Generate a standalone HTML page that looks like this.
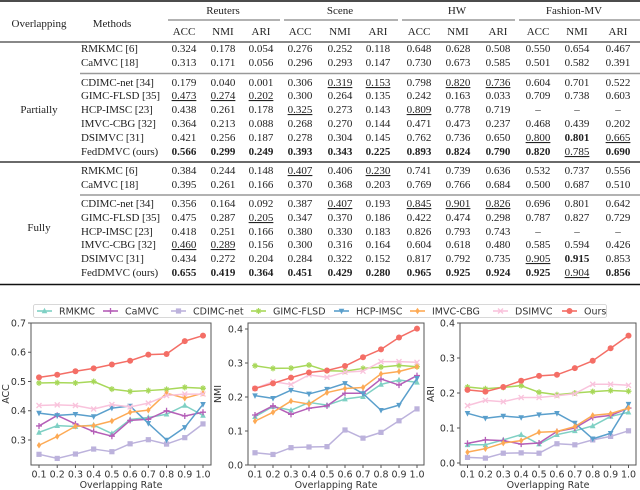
<!DOCTYPE html>
<html><head><meta charset="utf-8">
<style>
html,body{margin:0;padding:0;background:#fff;}
svg{display:block;}
.tb{font-family:"Liberation Serif","DejaVu Serif",serif;font-size:11px;fill:#222;}
.ax{font-family:"DejaVu Sans","Liberation Sans",sans-serif;font-size:9.5px;fill:#333;}
</style></head>
<body>
<svg id="root" width="640" height="490" viewBox="0 0 640 490" xmlns="http://www.w3.org/2000/svg">
  <g id="table"></g>
  <g id="legend"></g>
  <g id="charts"></g>
</svg>
<script>
const NS='http://www.w3.org/2000/svg';
function mk(tag,attrs,parent){const e=document.createElementNS(NS,tag);for(const k in attrs)e.setAttribute(k,attrs[k]);parent.appendChild(e);return e;}

/* ---------------- TABLE ---------------- */
const colX=[184,223,261,300,340,378,419,458,498,538,577,618];
const subHeads=['ACC','NMI','ARI','ACC','NMI','ARI','ACC','NMI','ARI','ACC','NMI','ARI'];
const groupNames=['Reuters','Scene','HW','Fashion-MV'];
const groupX=[223,340,457,574];
const methodNames=['RMKMC [6]','CaMVC [18]','CDIMC-net [34]','GIMC-FLSD [35]','HCP-IMSC [23]','IMVC-CBG [32]','DSIMVC [31]','FedDMVC (ours)'];
const partialRows=[
['0.324','0.178','0.054','0.276','0.252','0.118','0.648','0.628','0.508','0.550','0.654','0.467'],
['0.313','0.171','0.056','0.296','0.293','0.147','0.730','0.673','0.585','0.501','0.582','0.391'],
['0.179','0.040','0.001','0.306','u0.319','u0.153','0.798','u0.820','u0.736','0.604','0.701','0.522'],
['u0.473','u0.274','u0.202','0.300','0.264','0.135','0.242','0.163','0.033','0.709','0.738','0.603'],
['0.438','0.261','0.178','u0.325','0.273','0.143','u0.809','0.778','0.719','–','–','–'],
['0.364','0.213','0.088','0.268','0.270','0.144','0.471','0.473','0.237','0.468','0.439','0.202'],
['0.421','0.256','0.187','0.278','0.304','0.145','0.762','0.736','0.650','u0.800','b0.801','u0.665'],
['b0.566','b0.299','b0.249','b0.393','b0.343','b0.225','b0.893','b0.824','b0.790','b0.820','u0.785','b0.690']];
const fullRows=[
['0.384','0.244','0.148','u0.407','0.406','u0.230','0.741','0.739','0.636','0.532','0.737','0.556'],
['0.395','0.261','0.166','0.370','0.368','0.203','0.769','0.766','0.684','0.500','0.687','0.510'],
['0.356','0.164','0.092','0.387','u0.407','0.193','u0.845','u0.901','u0.826','0.696','0.801','0.642'],
['0.475','0.287','u0.205','0.347','0.370','0.186','0.422','0.474','0.298','0.787','0.827','0.729'],
['0.418','0.251','0.166','0.380','0.330','0.183','0.826','0.793','0.743','–','–','–'],
['u0.460','u0.289','0.156','0.300','0.316','0.164','0.604','0.618','0.480','0.585','0.594','0.426'],
['0.434','0.272','0.204','0.284','0.322','0.152','0.817','0.792','0.735','u0.905','b0.915','0.853'],
['b0.655','b0.419','b0.364','b0.451','b0.429','b0.280','b0.965','b0.925','b0.924','b0.925','u0.904','b0.856']];
const partialY=[52,66,86,99,113,127,141,155];
const fullY=[174,188,207,221,235,248,262,276];

const T=document.getElementById('table');
function txt(parent,x,y,s,anchor,name,extra){
  const t=mk('text',{x:x,y:y,'text-anchor':anchor||'middle','class':'tb'},parent);
  
  
  if(extra){for(const k in extra)t.setAttribute(k,extra[k]);}
  t.textContent=s;return t;
}
function rule(y,x1,x2,w,c){const l=mk('line',{x1:x1,x2:x2,y1:y,y2:y,stroke:c||'#111','stroke-width':w},T);
  
  }
rule(1,0,640,1.6);
rule(42,0,640,1);
rule(73.5,80,640,1.6,'#999');
rule(162,0,640,1.2);
rule(195,80,640,1.6,'#999');
rule(284.5,0,640,1.6);
const spans=[[168,280],[284,398],[402,515],[519,640]];
spans.forEach(s=>rule(20,s[0],s[1],0.8,'#333'));
txt(T,39,27,'Overlapping','middle','overlapping-header');
txt(T,112,27,'Methods','middle','methods-header');
groupNames.forEach((g,i)=>txt(T,groupX[i],14,g,'middle','dataset-header'));
subHeads.forEach((h,i)=>txt(T,colX[i],35,h,'middle','metric-header'));
txt(T,39,113,'Partially','middle','partially-label');
txt(T,39,231,'Fully','middle','fully-label');
function rows(data,ys){
  data.forEach((r,ri)=>{
    txt(T,81,ys[ri],methodNames[ri],'start','method-name',{'letter-spacing':'-0.1'});
    r.forEach((v,ci)=>{
      let s=v,ex={'font-size':'11.5'};
      if(v[0]==='b'){s=v.slice(1);ex['font-weight']='bold';}
      else if(v[0]==='u'){s=v.slice(1);ex['text-decoration']='underline';}
      txt(T,colX[ci],ys[ri],s,'middle','table-value',ex);
    });
  });
}
rows(partialRows,partialY);
rows(fullRows,fullY);

/* ---------------- CHART DATA ---------------- */
const rates=[0.1,0.2,0.3,0.4,0.5,0.6,0.7,0.8,0.9,1.0];
const xTickLabels=['0.1','0.2','0.3','0.4','0.5','0.6','0.7','0.8','0.9','1.0'];
const seriesNames=['RMKMC','CaMVC','CDIMC-net','GIMC-FLSD','HCP-IMSC','IMVC-CBG','DSIMVC','Ours'];

const accRMKMC=[0.326,0.349,0.346,0.351,0.322,0.370,0.377,0.388,0.418,0.384];
const accCaMVC=[0.348,0.384,0.355,0.329,0.313,0.367,0.371,0.400,0.382,0.395];
const accCDIMC=[0.251,0.237,0.252,0.269,0.260,0.287,0.301,0.286,0.308,0.355];
const accGIMC=[0.495,0.496,0.495,0.500,0.474,0.466,0.469,0.473,0.480,0.477];
const accHCP=[0.392,0.384,0.388,0.380,0.409,0.416,0.357,0.300,0.343,0.422];
const accIMVC=[0.282,0.312,0.347,0.349,0.365,0.395,0.402,0.460,0.443,0.460];
const accDSIMVC=[0.418,0.420,0.418,0.406,0.421,0.413,0.426,0.452,0.457,0.457];
const accOurs=[0.514,0.523,0.535,0.545,0.558,0.571,0.592,0.594,0.638,0.657];

const nmiRMKMC=[0.142,0.172,0.161,0.184,0.176,0.194,0.201,0.237,0.250,0.243];
const nmiCaMVC=[0.147,0.174,0.149,0.167,0.174,0.211,0.211,0.253,0.235,0.263];
const nmiCDIMC=[0.036,0.031,0.051,0.053,0.054,0.103,0.079,0.096,0.130,0.165];
const nmiGIMC=[0.292,0.284,0.285,0.294,0.277,0.276,0.284,0.288,0.293,0.289];
const nmiHCP=[0.204,0.196,0.220,0.209,0.223,0.240,0.210,0.161,0.176,0.255];
const nmiIMVC=[0.129,0.155,0.188,0.179,0.213,0.225,0.228,0.268,0.275,0.289];
const nmiDSIMVC=[0.225,0.245,0.237,0.265,0.258,0.273,0.276,0.304,0.304,0.302];
const nmiOurs=[0.225,0.240,0.257,0.272,0.278,0.291,0.317,0.340,0.375,0.401];

const ariRMKMC=[0.052,0.052,0.066,0.081,0.054,0.081,0.092,0.106,0.133,0.145];
const ariCaMVC=[0.056,0.066,0.064,0.054,0.057,0.090,0.100,0.130,0.136,0.157];
const ariCDIMC=[0.016,0.014,0.028,0.029,0.028,0.055,0.052,0.066,0.076,0.092];
const ariGIMC=[0.217,0.212,0.216,0.221,0.202,0.195,0.200,0.204,0.207,0.205];
const ariHCP=[0.142,0.128,0.134,0.130,0.138,0.142,0.114,0.069,0.085,0.168];
const ariIMVC=[0.031,0.041,0.057,0.064,0.088,0.090,0.104,0.136,0.141,0.157];
const ariDSIMVC=[0.164,0.179,0.175,0.187,0.187,0.192,0.198,0.225,0.225,0.222];
const ariOurs=[0.209,0.204,0.217,0.235,0.249,0.252,0.271,0.292,0.328,0.364];

const accTicks=[0.3,0.4,0.5,0.6,0.7];
const nmiTicks=[0.0,0.1,0.2,0.3,0.4];
const ariTicks=[0.0,0.1,0.2,0.3,0.4];

/* ---------------- STYLE ---------------- */
const colors=['#7fd0c4','#b55fb8','#bcb2dc','#a8d85a','#5a9fcc','#fdaa55','#f9c3dc','#f46e66'];
const markers=['tri','plus','sq','star','vtri','dia','x','circ'];

function marker(g,type,x,y,c,name){
  let e;const r=2.8;
  if(type==='circ')e=mk('circle',{cx:x,cy:y,r:3,fill:c},g);
  else if(type==='sq')e=mk('rect',{x:x-2.6,y:y-2.6,width:5.2,height:5.2,fill:c},g);
  else if(type==='tri')e=mk('polygon',{points:`${x},${y-r-0.5} ${x-r},${y+r-0.5} ${x+r},${y+r-0.5}`,fill:c},g);
  else if(type==='vtri')e=mk('polygon',{points:`${x},${y+r+0.5} ${x-r},${y-r+0.5} ${x+r},${y-r+0.5}`,fill:c},g);
  else if(type==='dia')e=mk('polygon',{points:`${x},${y-3.3} ${x-2.2},${y} ${x},${y+3.3} ${x+2.2},${y}`,fill:c},g);
  else if(type==='plus')e=mk('path',{d:`M${x-3},${y}H${x+3}M${x},${y-3}V${y+3}`,stroke:c,'stroke-width':1.3},g);
  else if(type==='x')e=mk('path',{d:`M${x-2.5},${y-2.5}L${x+2.5},${y+2.5}M${x-2.5},${y+2.5}L${x+2.5},${y-2.5}`,stroke:c,'stroke-width':1.3},g);
  else e=mk('path',{d:`M${x-3},${y}H${x+3}M${x},${y-3}V${y+3}M${x-2},${y-2}L${x+2},${y+2}M${x-2},${y+2}L${x+2},${y-2}`,stroke:c,'stroke-width':1.2},g);
  
  
}

/* ---------------- LEGEND ---------------- */
const L=document.getElementById('legend');
const lbox=mk('rect',{x:33.5,y:304.5,width:573,height:13,rx:2,fill:'#fff',stroke:'#ccc','stroke-width':0.8},L);


const legX=[37,103,171,251,334,410,493,562];
seriesNames.forEach((n,i)=>{
  const g=mk('g',{},L);
  
  
  mk('line',{x1:legX[i],x2:legX[i]+15,y1:311,y2:311,stroke:colors[i],'stroke-width':1.6},g);
  marker(g,markers[i],legX[i]+7.5,311,colors[i],'legend-marker');
  const t=mk('text',{x:legX[i]+22,y:314.5,'class':'ax'},g);
  
  
  t.textContent=n;
});

/* ---------------- CHARTS ---------------- */
const C=document.getElementById('charts');
function chart(cfg){
  const g=mk('g',{},C);
  
  
  const top=323,bot=465;
  const xS=v=>cfg.l+cfg.pad+(v-0.1)/0.9*(cfg.r-cfg.l-2*cfg.pad);
  const yS=v=>bot-(v-cfg.ymin)/(cfg.ymax-cfg.ymin)*(bot-top);
  const fr=mk('rect',{x:cfg.l,y:top,width:cfg.r-cfg.l,height:bot-top,fill:'none',stroke:'#555','stroke-width':1},g);
  
  
  cfg.yticks.forEach(v=>{
    const y=yS(v);
    mk('line',{x1:cfg.l-3,x2:cfg.l,y1:y,y2:y,stroke:'#555'},g);
    const t=mk('text',{x:cfg.l-5,y:y+3.5,'text-anchor':'end','class':'ax'},g);
    
    
    t.textContent=v.toFixed(1);
  });
  rates.forEach((v,i)=>{
    const x=xS(v);
    mk('line',{x1:x,x2:x,y1:bot,y2:bot+3,stroke:'#555'},g);
    const t=mk('text',{x:x,y:bot+12.5,'text-anchor':'middle','class':'ax'},g);
    
    
    t.textContent=xTickLabels[i];
  });
  const xl=mk('text',{x:(cfg.l+cfg.r)/2,y:488,'text-anchor':'middle','class':'ax','font-size':'10.5'},g);
  
  
  xl.textContent='Overlapping Rate';
  const yl=mk('text',{x:0,y:0,'text-anchor':'middle','class':'ax','font-size':'10.5',transform:`translate(${cfg.yl},394) rotate(-90)`},g);
  
  
  yl.textContent=cfg.title;
  cfg.series.forEach((arr,si)=>{
    const sg=mk('g',{},g);
    
    
    const pts=arr.map((v,i)=>xS(rates[i])+','+yS(v)).join(' ');
    const pl=mk('polyline',{points:pts,fill:'none',stroke:colors[si],'stroke-width':1.5,'stroke-linejoin':'round'},sg);
    
    
    arr.forEach((v,i)=>marker(sg,markers[si],xS(rates[i]),yS(v),colors[si],'data-point'));
  });
}
chart({name:'acc-chart',title:'ACC',l:31,r:211,pad:8,ymin:0.2145,ymax:0.7,yticks:accTicks,yl:9,
  series:[accRMKMC,accCaMVC,accCDIMC,accGIMC,accHCP,accIMVC,accDSIMVC,accOurs]});
chart({name:'nmi-chart',title:'NMI',l:248,r:424,pad:7,ymin:0,ymax:0.4176,yticks:nmiTicks,yl:221,
  series:[nmiRMKMC,nmiCaMVC,nmiCDIMC,nmiGIMC,nmiHCP,nmiIMVC,nmiDSIMVC,nmiOurs]});
chart({name:'ari-chart',title:'ARI',l:460,r:636,pad:7.5,ymin:-0.0057,ymax:0.4,yticks:ariTicks,yl:434,
  series:[ariRMKMC,ariCaMVC,ariCDIMC,ariGIMC,ariHCP,ariIMVC,ariDSIMVC,ariOurs]});
</script>
</body></html>
